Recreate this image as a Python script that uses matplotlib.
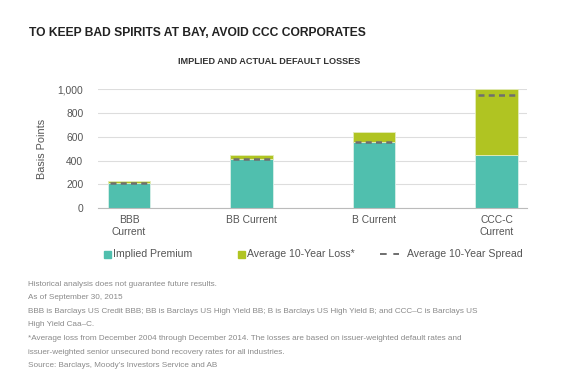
import matplotlib.pyplot as plt
import numpy as np

categories = ['BBB\nCurrent', 'BB Current', 'B Current', 'CCC-C\nCurrent']
implied_premium = [213, 413, 555, 450]
avg_loss = [12, 36, 85, 550]
avg_spread = [207, 410, 557, 955]

teal = '#50bfae'
green = '#b0c422'
grey_txt = '#555555'
fam = ['Liberation Sans', 'DejaVu Sans']
plt.rcParams['font.family'] = fam

fig = plt.figure(figsize=(5.8, 3.89), dpi=100)
ax = fig.add_axes([98 / 580, 1 - 208 / 389, 429 / 580, 118.7 / 389])

x = np.arange(len(categories))
w = 0.343
ax.bar(x, implied_premium, w, color=teal, edgecolor='#d9efe9', linewidth=0.6, zorder=2)
ax.bar(x, avg_loss, w, bottom=implied_premium, color=green, edgecolor='#e3ecb8',
       linewidth=0.6, zorder=2)
for xi, s in zip(x, avg_spread):
    ax.plot([xi - w / 2 + 0.02, xi + w / 2 - 0.02], [s, s], color='#6f6f6f', lw=1.8,
            dashes=(2.4, 1.7), zorder=3)

ax.set_xlim(-0.253, 3.249)
ax.set_ylim(0, 1000)
ax.set_yticks([0, 200, 400, 600, 800, 1000])
ax.set_yticklabels(['0', '200', '400', '600', '800', '1,000'])
ax.set_xticks(x)
ax.set_xticklabels(categories)
ax.yaxis.grid(True, color='#dddddd', lw=0.8, zorder=0)
ax.set_axisbelow(True)
for sp in ['top', 'right', 'left']:
    ax.spines[sp].set_visible(False)
ax.spines['bottom'].set_color('#bbbbbb')
ax.tick_params(axis='both', length=0, colors=grey_txt, labelsize=7.4)
ax.tick_params(axis='y', pad=10.5)
ax.tick_params(axis='x', pad=5)
ax.set_ylabel('Basis Points', color=grey_txt, fontsize=7.8, labelpad=8)

fig.text(29 / 580, 1 - 33 / 389, 'TO KEEP BAD SPIRITS AT BAY, AVOID CCC CORPORATES',
         fontsize=8.7, fontweight='bold', color='#222222', va='center')
fig.text(178 / 580, 1 - 61 / 389, 'IMPLIED AND ACTUAL DEFAULT LOSSES',
         fontsize=6.6, fontweight='bold', color='#333333', va='center')

# legend
ly = 1 - 254 / 389
fig.patches.append(plt.Rectangle((104 / 580, ly - 3.5 / 389), 7 / 580, 7 / 389,
                                 color=teal, transform=fig.transFigure))
fig.text(113 / 580, ly, 'Implied Premium', fontsize=7.6, color=grey_txt, va='center')
fig.patches.append(plt.Rectangle((238 / 580, ly - 3.5 / 389), 7 / 580, 7 / 389,
                                 color=green, transform=fig.transFigure))
fig.text(247 / 580, ly, 'Average 10-Year Loss*', fontsize=7.6, color=grey_txt, va='center')
fig.add_artist(plt.Line2D([380 / 580, 399 / 580], [ly, ly], color='#555555', lw=1.2,
                          dashes=(4, 4), transform=fig.transFigure))
fig.text(407 / 580, ly, 'Average 10-Year Spread', fontsize=7.6, color=grey_txt, va='center')

notes = [
    'Historical analysis does not guarantee future results.',
    'As of September 30, 2015',
    'BBB is Barclays US Credit BBB; BB is Barclays US High Yield BB; B is Barclays US High Yield B; and CCC\u2013C is Barclays US',
    'High Yield Caa\u2013C.',
    '*Average loss from December 2004 through December 2014. The losses are based on issuer-weighted default rates and',
    'issuer-weighted senior unsecured bond recovery rates for all industries.',
    'Source: Barclays, Moody\u2019s Investors Service and AB',
]
for i, line in enumerate(notes):
    fig.text(28 / 580, 1 - (284 + i * 13.6) / 389, line, fontsize=5.9, color='#8a8a8a',
             va='center')

fig.savefig('out.png', dpi=100)
